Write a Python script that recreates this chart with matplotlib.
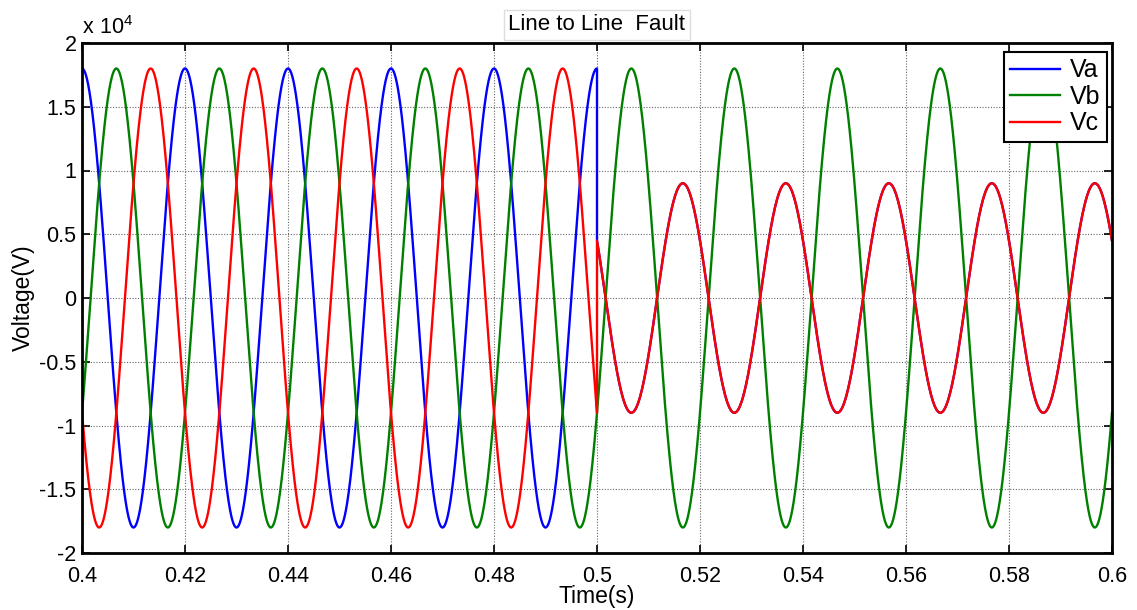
import numpy as np
import matplotlib
matplotlib.use("Agg")
import matplotlib.pyplot as plt
from matplotlib.ticker import FuncFormatter, MultipleLocator

plt.rcParams['font.family'] = ['Liberation Sans', 'DejaVu Sans']
plt.rcParams['mathtext.fontset'] = 'custom'
plt.rcParams['mathtext.rm'] = 'Liberation Sans'

# Simulation window and fault instant (s)
t_start, t_end = 0.4, 0.6
fault_time = 0.5
freq_hz = 50.0

# Phase labels and colours
phases = ['Va', 'Vb', 'Vc']
colors = ['#0000ff', '#008000', '#ff0000']

# Peak voltage (V) and phase angle (deg) before and after the A-C line fault
peak_pre = [18000, 18000, 18000]
angle_pre = [0, -120, 120]
peak_post = [9000, 18000, 9000]
angle_post = [60, -120, 60]

n_pts = 4000
t_pre = np.linspace(t_start, fault_time, n_pts)
t_post = np.linspace(fault_time, t_end, n_pts)
w = 2 * np.pi * freq_hz

fig = plt.figure(figsize=(11.37, 6.10), dpi=100)
ax = fig.add_axes([82 / 1137, 1 - 553 / 610, (1112 - 82) / 1137, (553 - 43) / 610])

for name, c, a0, p0, a1, p1 in zip(phases, colors, peak_pre, angle_pre, peak_post, angle_post):
    v_pre = a0 * np.cos(w * t_pre + np.deg2rad(p0))
    v_post = a1 * np.cos(w * t_post + np.deg2rad(p1))
    t = np.concatenate([t_pre, t_post])
    v = np.concatenate([v_pre, v_post])
    ax.plot(t, v, color=c, lw=1.7, label=name)

ax.set_xlim(t_start, t_end)
ax.set_ylim(-20000, 20000)
ax.xaxis.set_major_locator(MultipleLocator(0.02))
ax.yaxis.set_major_locator(MultipleLocator(5000))
ax.xaxis.set_major_formatter(FuncFormatter(lambda x, p: f"{x:g}"))
ax.yaxis.set_major_formatter(FuncFormatter(lambda y, p: f"{y / 1e4:g}".replace('\u2212', '-')))

ax.grid(True, color='#666666', linestyle=(0, (1, 1.5)), linewidth=0.8)
ax.tick_params(direction='in', length=6, width=1.2, labelsize=15.5, top=True, right=True,
               colors='black')
ax.tick_params(axis='x', pad=9)
ax.tick_params(axis='y', pad=4)
for s in ax.spines.values():
    s.set_linewidth(2)
    s.set_color('black')

ax.set_xlabel('Time(s)', fontsize=16.5, labelpad=-1)
ax.set_ylabel('Voltage(V)', fontsize=16.5, labelpad=3)
ax.text(0.0, 1.008, r'$\mathrm{x\ 10^{4}}$', transform=ax.transAxes, fontsize=15.5,
        ha='left', va='bottom')

ax.set_title('Line to Line  Fault', fontsize=16, pad=9,
             bbox=dict(facecolor='white', edgecolor='#dddddd', linewidth=1, boxstyle='square,pad=0.2'))

leg = ax.legend(loc='upper right', bbox_to_anchor=(1 - 5 / 1030, 1 - 9 / 510), borderaxespad=0,
                fontsize=18, fancybox=False, framealpha=1, edgecolor='black',
                handlelength=2.0, handletextpad=0.4, labelspacing=0.1, borderpad=0.25)
leg.get_frame().set_linewidth(1.5)

fig.savefig('out.png', dpi=100)
